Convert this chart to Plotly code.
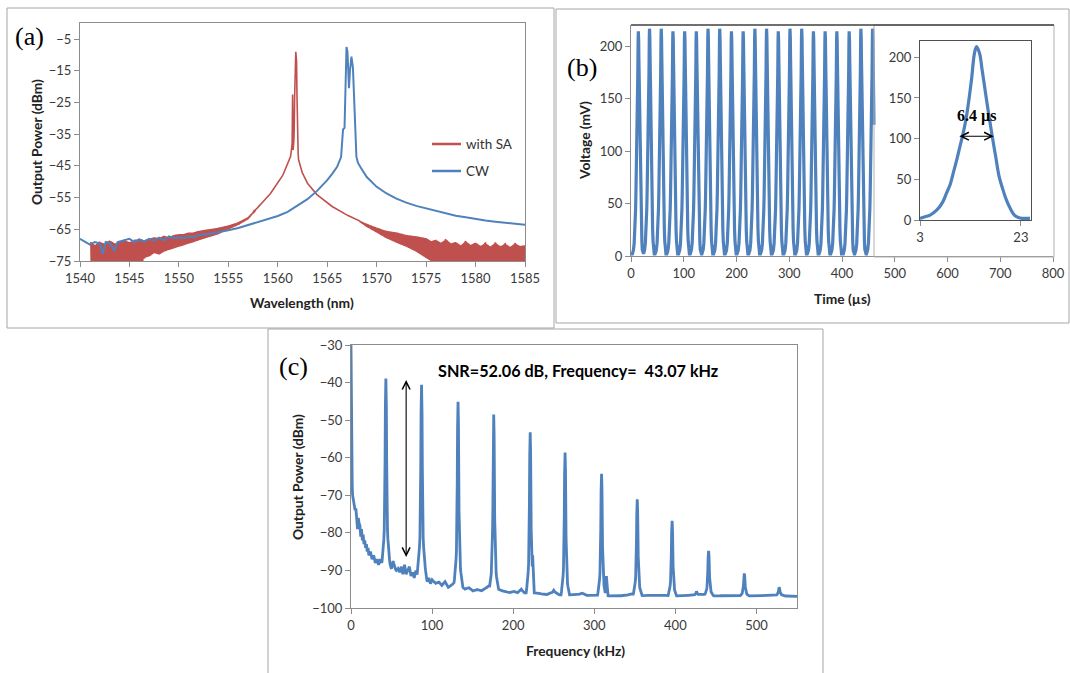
import numpy as np
import plotly.graph_objects as go

W, H = 1070, 673
def px(x): return x / W
def py(y): return 1 - y / H

# ---------------- (a) optical spectra ----------------
cw_wl = [1540, 1540.5, 1541, 1541.5, 1542, 1542.3, 1542.6, 1543, 1543.5, 1543.8, 1544.3, 1545, 1545.5,
         1546, 1546.5, 1547, 1547.5, 1548, 1548.5, 1549, 1549.5, 1550, 1550.5, 1551, 1551.5, 1552,
         1553, 1554, 1555, 1556, 1557, 1558, 1559, 1560, 1561, 1562, 1563, 1564, 1565, 1565.5, 1566,
         1566.4, 1566.5, 1566.6, 1566.75, 1566.85, 1566.95, 1567.05, 1567.2, 1567.3, 1567.45, 1567.6,
         1567.7, 1567.85, 1567.95, 1568.1, 1568.4, 1569, 1570, 1571, 1572, 1573, 1574, 1575, 1576,
         1577, 1578, 1579, 1580, 1581, 1582, 1583, 1584, 1585]
cw_db = [-68, -69, -69.8, -69, -69.5, -72.8, -69, -69.3, -71.8, -69, -68.5, -68, -69,
         -68.2, -68.8, -68, -68.6, -67.6, -68.5, -67.2, -67.8, -67.5, -67.8, -67.2, -67.5, -66.8,
         -66.5, -66, -65.3, -64.6, -63.7, -62.6, -61.8, -60.8, -59.5, -57.6, -55.5, -52.8, -49.5, -47.5, -45.3,
         -42.2, -36, -33.5, -33, -20, -7.5, -9, -20.5, -15, -10.5, -14,
         -20.5, -34, -42, -44, -45.6, -48.5, -51.6, -53.7, -55.3, -56.6, -57.6, -58.4, -59.2,
         -60, -60.7, -61.2, -61.8, -62.2, -62.6, -63, -63.3, -63.6]

sa_wl = [1541.1, 1541.5, 1542, 1542.5, 1543, 1543.5, 1544, 1544.5, 1545, 1545.5, 1546, 1546.5, 1547,
         1547.5, 1548, 1548.5, 1549, 1549.5, 1550, 1550.5, 1551, 1551.5, 1552, 1553, 1554, 1555, 1556,
         1557, 1558, 1559, 1560, 1560.5, 1561, 1561.3, 1561.45, 1561.5, 1561.55, 1561.65, 1561.75,
         1561.82, 1561.9, 1562.0, 1562.1, 1562.3, 1562.6, 1563, 1563.5, 1564, 1564.5, 1565, 1566, 1567,
         1568, 1569, 1570, 1571, 1572, 1573, 1574, 1575, 1575.5, 1576, 1576.5, 1577, 1577.5, 1578,
         1578.5, 1579, 1579.5, 1580, 1580.5, 1581, 1581.5, 1582, 1582.5, 1583, 1583.5, 1584, 1584.5, 1585]
sa_upper = [-69, -70, -69, -69.5, -68.5, -69.5, -69, -68.5, -69, -68.5, -68, -68.5, -68,
            -67.5, -67.8, -67, -67.5, -66.8, -66.5, -66.5, -66, -66, -65.5, -65, -64.5, -63.8, -62.8,
            -61.2, -58, -54.8, -50.5, -48, -44.5, -42, -38, -22.5, -40, -36, -12,
            -9, -12, -38, -43, -45.8, -48, -50.5, -52.5, -54.2, -55.5, -56.8, -58.8, -60.5,
            -62, -63.3, -64.5, -65.5, -66, -66.8, -67.2, -67.8, -68.8, -68.3, -69.3, -68.2, -69.5, -69,
            -70.2, -68.8, -70, -69.2, -70.3, -69.4, -70.5, -69.3, -70.4, -69.6, -70.6, -69.5, -70.3, -70]
sa_lower = [-77, -77, -77, -77, -77, -77, -77, -76, -77, -75.5, -77, -74, -73.5,
            -72.5, -73, -72, -71.5, -71, -70.5, -70, -69.5, -69, -68.5, -67.5, -66.5, -65, -63.6,
            -61.8, -58, -54.8, -50.5, -48, -44.5, -42, -38, -22.5, -40, -36, -12,
            -9, -12, -38, -43, -45.8, -48, -50.5, -52.5, -54.2, -55.5, -56.8, -58.8, -60.5,
            -62, -64.2, -66, -67.8, -69.2, -70.5, -72, -74, -75, -76, -77, -77, -77, -77,
            -76, -77, -77, -77, -77, -77, -77, -77, -77, -77, -77, -77, -77, -77]

# ---------------- (b) pulse train ----------------
pulse_t = [3, 4, 5, 6.3, 7.5, 8.25, 9, 9.56, 10.2, 10.9, 11.6, 12.2, 12.7, 13.2, 13.8, 14.2,
           14.8, 15.3, 15.8, 16.3, 16.8, 17.4, 18, 18.7, 19.4, 20.1, 20.9, 21.7, 22.5, 23.2, 24, 24.8]
pulse_mv = [2, 4, 6, 12, 22, 33, 44, 57, 72, 90, 108, 127, 148, 172, 205, 213,
            205, 185, 164, 143, 123, 100, 78, 53, 38, 25, 14, 6, 3, 2, 2, 2]
pulse_peak_t = 14.2
train_peak_t = [13.9, 35.1, 57.3, 79.5, 101.7, 123.8, 146.0, 168.2, 190.4, 212.6, 234.8,
                257.0, 279.2, 301.4, 323.6, 345.8, 368.0, 390.2, 413.6, 435.8, 458.0]
train_peak_mv = [214, 216.5, 216.5, 214, 214, 214, 216.5, 216.5, 214, 214, 216.5,
                 216.5, 214, 216.5, 216.5, 214, 214, 214, 214, 216.5, 216.5]

# ---------------- (c) RF spectrum ----------------
floor_khz = [0, 0.3, 0.7, 1.2, 2, 3, 4, 5, 6, 7, 8, 9, 10, 11, 12, 13, 14, 15, 16, 17, 18, 19, 20,
             21, 22, 24, 26, 28, 30, 32, 34, 36, 38, 40, 48, 50, 52, 54, 56, 58, 60, 62, 64, 66, 68,
             70, 72, 74, 76, 78, 80, 82, 84, 92, 94, 96, 98, 100, 104, 108, 112, 116, 120, 124, 128,
             136, 140, 145, 150, 155, 160, 165, 170, 182, 186, 190, 195, 200, 205, 210, 213, 230, 240,
             248, 252, 256, 272, 280, 285, 290, 300, 320, 340, 345, 360, 380, 390, 405, 420, 430, 450,
             470, 495, 510, 520, 535, 550]
floor_db = [-30, -45, -60, -66, -70, -72, -72.5, -74, -73.5, -76, -79, -76, -77.5, -78, -81, -79, -82,
            -80.5, -83, -82, -84, -83, -85, -84, -86, -85, -87, -86, -88, -87, -88.5, -87, -88, -87.5,
            -89, -89.5, -87.5, -89.5, -90, -89.5, -90.5, -89, -91, -88.5, -91, -90, -89, -91.5, -90.5,
            -92, -90, -91.5, -89.5, -91, -93, -92, -93.5, -92.5, -93.5, -93, -94, -93, -94.5, -94,
            -93, -94, -95, -94.5, -95.5, -95, -95.5, -95, -94, -95, -95.5, -95.5, -96, -95.5, -96,
            -95, -96, -96, -96.5, -96, -95.8, -96.5, -96.5, -96.5, -96, -96.7, -96.5, -96.8, -96.7,
            -96.2, -96.7, -96.5, -96.7, -96.8, -96.6, -96.3, -96.8, -96.6, -96.8, -96.7, -96.5,
            -96.8, -96.9]
harm_khz = [43, 87, 132, 176, 221, 264, 309, 353, 396, 441, 485, 528]
harm_db = [-38.9, -40.6, -45.1, -48.5, -53.2, -58.6, -64.3, -71.1, -76.8, -84.8, -90.8, -94.5]
spur_khz = [224, 315, 426, 250]
spur_db = [-86, -91.5, -95.6, -95.3]
line_offset_khz = [-5, -3, -2, -1.2, -0.6, 0, 0.6, 1.2, 2, 3, 5]
line_frac = [0, 0.08, 0.18, 0.4, 0.85, 1, 0.85, 0.4, 0.18, 0.08, 0]
spur_offset_khz = [-2, -1, -0.4, 0, 0.4, 1, 2]
spur_frac = [0, 0.25, 0.8, 1, 0.8, 0.25, 0]

# ---------------- build traces ----------------
BLUE = "#4F81BD"
RED = "#C0504D"

# (a) red: dense noisy band between read envelopes
grid = np.arange(sa_wl[0], sa_wl[-1] + 1e-9, 0.04)
xs_r = np.union1d(grid, np.array(sa_wl))
up = np.interp(xs_r, sa_wl, sa_upper)
lo = np.interp(xs_r, sa_wl, sa_lower)
ys_r = np.where(np.arange(len(xs_r)) % 2 == 0, up, lo)

# (b) train from the pulse profile placed at each read peak
pt = np.array(pulse_t) - pulse_peak_t
pv = np.array(pulse_mv)
tr_t, tr_v = [0.0], [2.0]
for i, (c, h) in enumerate(zip(train_peak_t, train_peak_mv)):
    lo_b = (train_peak_t[i - 1] + c) / 2 if i > 0 else -1e9
    hi_b = (train_peak_t[i + 1] + c) / 2 if i < len(train_peak_t) - 1 else 1e9
    for dt, v in zip(pt, pv):
        t = c + dt
        if lo_b <= t < hi_b and t <= 461:
            tr_t.append(t)
            tr_v.append(v * h / max(pulse_mv))

# (c) spectrum: floor plus harmonic lines
extra = []
for c in harm_khz:
    extra += [c + o for o in line_offset_khz]
for c in spur_khz:
    extra += [c + o for o in spur_offset_khz]
xs_c = np.union1d(np.union1d(np.arange(0, 550.001, 0.5), floor_khz), extra)
xs_c = xs_c[(xs_c >= 0) & (xs_c <= 550)]
ys_c = np.interp(xs_c, floor_khz, floor_db)
for c, h in zip(harm_khz, harm_db):
    fl = np.interp(c, floor_khz, floor_db)
    prof = np.interp(xs_c, [c + o for o in line_offset_khz],
                     [fl + f * (h - fl) for f in line_frac], left=-200, right=-200)
    ys_c = np.maximum(ys_c, prof)
for c, h in zip(spur_khz, spur_db):
    fl = np.interp(c, floor_khz, floor_db)
    prof = np.interp(xs_c, [c + o for o in spur_offset_khz],
                     [fl + f * (h - fl) for f in spur_frac], left=-200, right=-200)
    ys_c = np.maximum(ys_c, prof)

fig = go.Figure()
fig.add_trace(go.Scatter(x=xs_r, y=ys_r, mode="lines", line=dict(color=RED, width=1.6),
                         name="with SA", xaxis="x", yaxis="y", showlegend=False))
fig.add_trace(go.Scatter(x=cw_wl, y=cw_db, mode="lines", line=dict(color=BLUE, width=2),
                         name="CW", xaxis="x", yaxis="y", showlegend=False))
fig.add_trace(go.Scatter(x=tr_t, y=tr_v, mode="lines", line=dict(color=BLUE, width=3.2),
                         xaxis="x2", yaxis="y2", showlegend=False))
fig.add_trace(go.Scatter(x=pulse_t, y=pulse_mv, mode="lines", line=dict(color=BLUE, width=3.2, shape="spline"),
                         xaxis="x3", yaxis="y3", showlegend=False))
fig.add_trace(go.Scatter(x=xs_c, y=ys_c, mode="lines", line=dict(color=BLUE, width=2.8),
                         xaxis="x4", yaxis="y4", showlegend=False))

TICKF = dict(family="Lato", size=13, color="#3a3a3a")
def ax(domain, rng, mirror=True, linecolor="#8c8c8c", **kw):
    d = dict(domain=domain, range=rng, showgrid=False, zeroline=False, showline=True,
             linecolor=linecolor, linewidth=1, mirror=mirror, ticks="outside", ticklen=5,
             tickcolor="#8c8c8c", tickfont=TICKF, fixedrange=True, automargin=False)
    d.update(kw)
    return d

fig.update_layout(
    template="none",
    width=W, height=H, margin=dict(l=0, r=0, t=0, b=0, pad=0), autosize=False,
    paper_bgcolor="white", plot_bgcolor="rgba(0,0,0,0)",
    xaxis=ax([px(80), px(525)], [1540, 1585], anchor="y", tickvals=list(range(1540, 1586, 5))),
    yaxis=ax([py(261), py(23.3)], [-75, 0], anchor="x", tickvals=list(range(-75, 0, 10))),
    xaxis2=ax([px(631), px(1053)], [0, 800], mirror=False, anchor="y2", tickvals=list(range(0, 801, 100))),
    yaxis2=ax([py(256), py(25)], [0, 220], mirror=False, anchor="x2", tickvals=[0, 50, 100, 150, 200]),
    xaxis3=ax([px(920), px(1031)], [3, 25], linecolor="#505050", anchor="y3", tickvals=[3, 23]),
    yaxis3=ax([py(220), py(41)], [0, 220], linecolor="#505050", anchor="x3", tickvals=[0, 50, 100, 150, 200]),
    xaxis4=ax([px(351), px(797)], [0, 550], anchor="y4", tickvals=[0, 100, 200, 300, 400, 500]),
    yaxis4=ax([py(608), py(345)], [-100, -30], anchor="x4", tickvals=list(range(-100, -29, 10))),
)

FRAME = "#a6a6a6"
shapes = [
    dict(type="rect", xref="paper", yref="paper", x0=px(7), x1=px(554), y0=py(328), y1=py(8),
         line=dict(color=FRAME, width=1), layer="below"),
    dict(type="rect", xref="paper", yref="paper", x0=px(556), x1=px(1069), y0=py(323), y1=py(9),
         line=dict(color=FRAME, width=1), layer="below"),
    dict(type="rect", xref="paper", yref="paper", x0=px(268), x1=px(823), y0=py(680), y1=py(329),
         line=dict(color=FRAME, width=1), layer="below", fillcolor="white"),
    dict(type="rect", xref="paper", yref="paper", x0=px(874), x1=px(1054), y0=py(257), y1=py(25),
         line=dict(color="#b0b0b0", width=1), layer="above"),
    dict(type="line", xref="paper", yref="paper", x0=px(631), x1=px(1054), y0=py(25), y1=py(25),
         line=dict(color="#404040", width=1.5), layer="above"),
    # legend swatches (a)
    dict(type="line", xref="paper", yref="paper", x0=px(432), x1=px(461), y0=py(144), y1=py(144),
         line=dict(color=RED, width=2.5)),
    dict(type="line", xref="paper", yref="paper", x0=px(432), x1=px(461), y0=py(171), y1=py(171),
         line=dict(color=BLUE, width=2.5)),
]
fig.update_layout(shapes=shapes)

TITLEF = dict(family="Lato", size=13.8, color="#222222")
LABF = dict(family="Liberation Serif", size=26, color="black")
def pa(x, y, text, font, angle=0, xanchor="center"):
    return dict(xref="paper", yref="paper", x=px(x), y=py(y), text=text, showarrow=False,
                font=font, textangle=angle, xanchor=xanchor, yanchor="middle")

ann = [
    pa(29, 36, "(a)", LABF), pa(582, 68, "(b)", LABF), pa(293, 367, "(c)", LABF),
    pa(36, 142, "<b>Output Power (dBm)</b>", TITLEF, -90),
    pa(302, 302, "<b>Wavelength (nm)</b>", TITLEF),
    pa(584, 141, "<b>Voltage (mV)</b>", TITLEF, -90),
    pa(842, 298, "<b>Time (µs)</b>", TITLEF),
    pa(297, 477, "<b>Output Power (dBm)</b>", TITLEF, -90),
    pa(575, 650, "<b>Frequency (kHz)</b>", TITLEF),
    pa(464, 144, "with SA", dict(family="Lato", size=13.5, color="#333333"), xanchor="left"),
    pa(464, 171, "CW", dict(family="Lato", size=13.5, color="#333333"), xanchor="left"),
    pa(578, 370, "<b>SNR=52.06 dB, Frequency=  43.07 kHz</b>", dict(family="Lato", size=16.2, color="black")),
    dict(xref="x3", yref="y3", x=14.2, y=128, text="<b>6.4 µs</b>", showarrow=False,
         font=dict(family="Liberation Serif", size=16, color="black")),
    dict(xref="x3", yref="y3", axref="x3", ayref="y3", x=17.6, y=103, ax=10.5, ay=103, text="",
         showarrow=True, arrowhead=5, arrowside="end+start", arrowsize=1.4, arrowwidth=1.1, arrowcolor="black"),
    dict(xref="x4", yref="y4", axref="x4", ayref="y4", x=68, y=-39.3, ax=68, ay=-86.8, text="",
         showarrow=True, arrowhead=5, arrowside="end+start", arrowsize=1.4, arrowwidth=1.1, arrowcolor="black"),
]
fig.update_layout(annotations=ann)

fig.write_html("out.html", config={"displayModeBar": False},
               post_script="document.body.style.margin='0';document.body.style.overflow='hidden';")
